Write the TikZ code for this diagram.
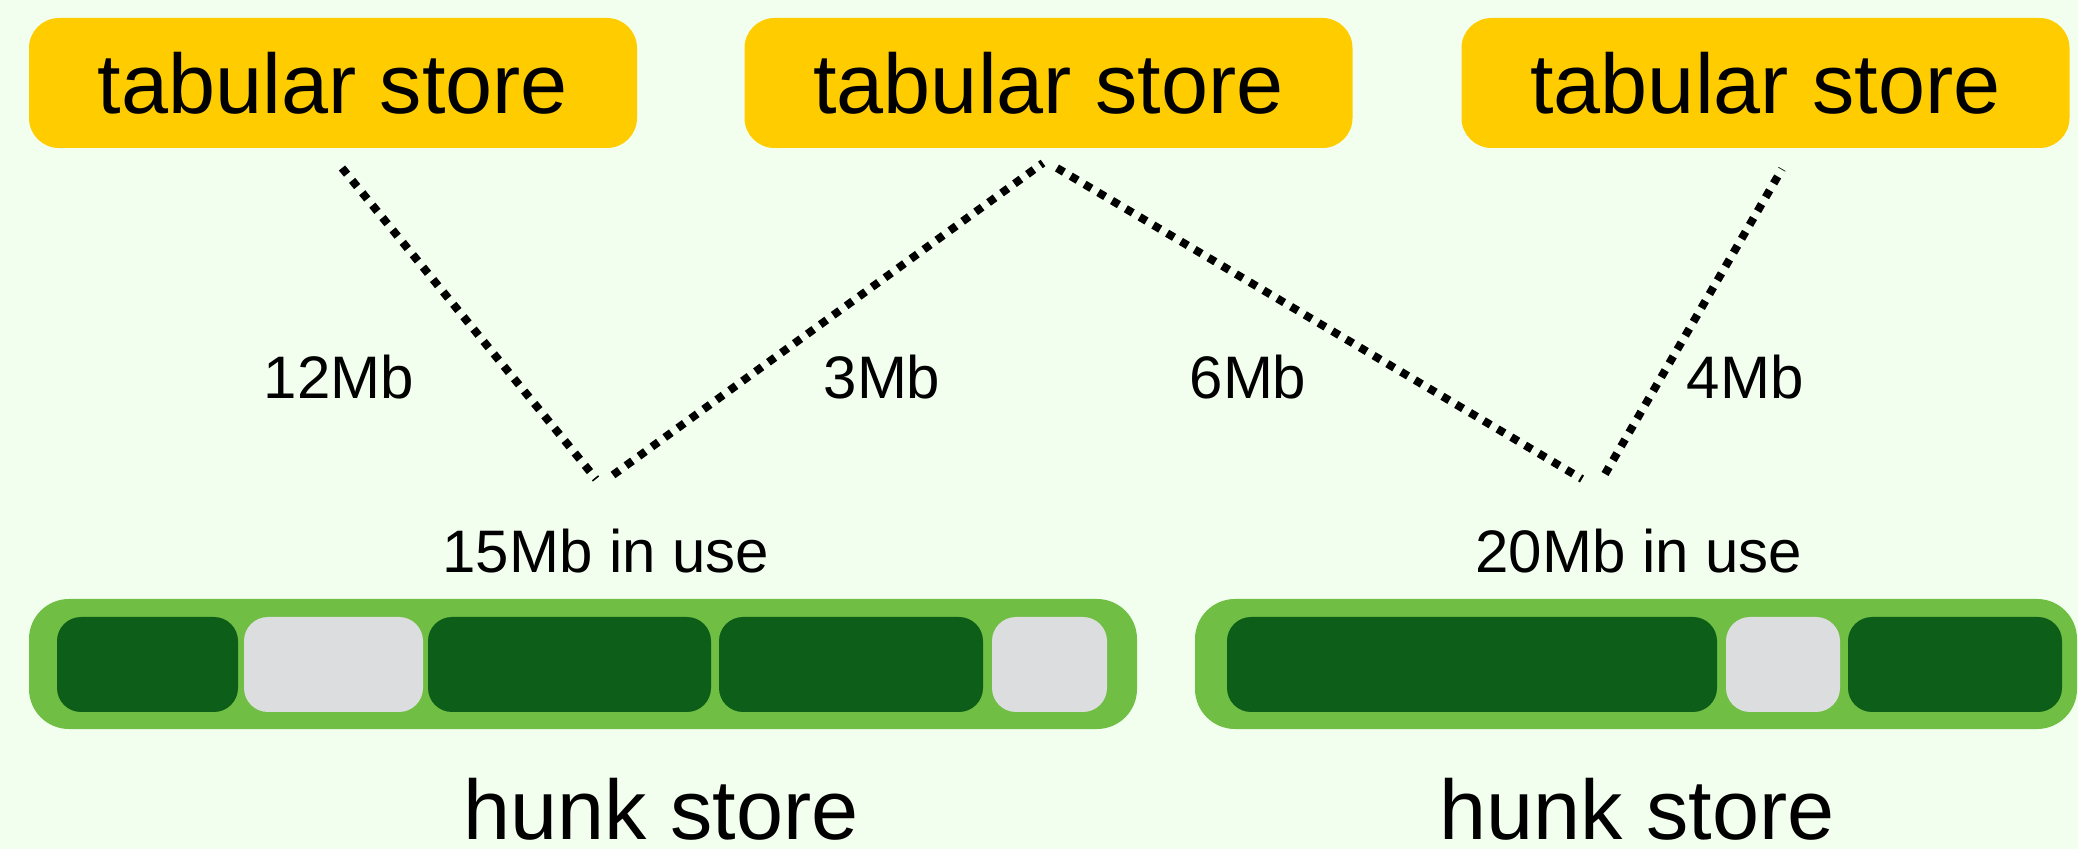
\documentclass[tikz,border=0pt]{standalone}
\usepackage{fontspec}
\setmainfont{Liberation Sans}
\definecolor{bg}{HTML}{F2FEEE}
\definecolor{tabyellow}{HTML}{FFCC00}
\definecolor{barlight}{HTML}{70BF44}
\definecolor{usedgreen}{HTML}{0C5E19}
\definecolor{freegray}{HTML}{DCDDDF}
\begin{document}
\begin{tikzpicture}[x=0.5pt,y=-0.5pt,
  tabbox/.style={fill=tabyellow, rounded corners=15pt, minimum width=304pt,
    minimum height=65pt, inner sep=0pt, font=\fontsize{42.3}{50}\selectfont},
  sizelabel/.style={font=\fontsize{30}{36}\selectfont, anchor=base},
  caption/.style={font=\fontsize{42.3}{50}\selectfont, anchor=base, inner sep=0pt},
  link/.style={line width=4pt, dash pattern=on 4pt off 4pt},
  bar/.style={fill=barlight, rounded corners=20pt},
  used/.style={fill=usedgreen, rounded corners=12pt},
  free/.style={fill=freegray, rounded corners=12pt}]
\useasboundingbox (0,0) rectangle (2078,849);
\fill[bg] (0,0) rectangle (2078,849);

% tabular stores
\node[tabbox] (t1) at (333,83) {tabular store};
\node[tabbox] (t2) at (1048.5,83) {tabular store};
\node[tabbox] (t3) at (1765.5,83) {tabular store};

% line end points
\coordinate (t1s) at (342,168);
\coordinate (h1l) at (596,479);
\coordinate (h1r) at (613,475);
\coordinate (t2l) at (1043,163);
\coordinate (t2r) at (1057,168);
\coordinate (h2l) at (1582,479);
\coordinate (h2r) at (1605,474);
\coordinate (t3s) at (1782,169);

\draw[link] (t1s) -- (h1l);
\draw[link] (h1r) -- (t2l);
\draw[link] (t2r) -- (h2l);
\draw[link] (h2r) -- (t3s);

% sizes
\node[sizelabel] (l12) at (339,399) {12Mb};
\node[sizelabel] (l3) at (882,399) {3Mb};
\node[sizelabel] (l6) at (1248,399) {6Mb};
\node[sizelabel] (l4) at (1745,399) {4Mb};
\node[sizelabel] (u1) at (606,573) {15Mb in use};
\node[sizelabel] (u2) at (1639,573) {20Mb in use};

% first hunk store
\fill[bar] (29,599) rectangle (1137,729);
\fill[used] (57,617) rectangle (238,712);
\fill[free] (244,617) rectangle (423,712);
\fill[used] (428,617) rectangle (711,712);
\fill[used] (719,617) rectangle (983,712);
\fill[free] (992,617) rectangle (1107,712);

% second hunk store
\fill[bar] (1195,599) rectangle (2077,729);
\fill[used] (1227,617) rectangle (1717,712);
\fill[free] (1726,617) rectangle (1840,712);
\fill[used] (1848,617) rectangle (2062,712);

\node[caption] (c1) at (661,839) {hunk store};
\node[caption] (c2) at (1637,839) {hunk store};
\end{tikzpicture}
\end{document}
